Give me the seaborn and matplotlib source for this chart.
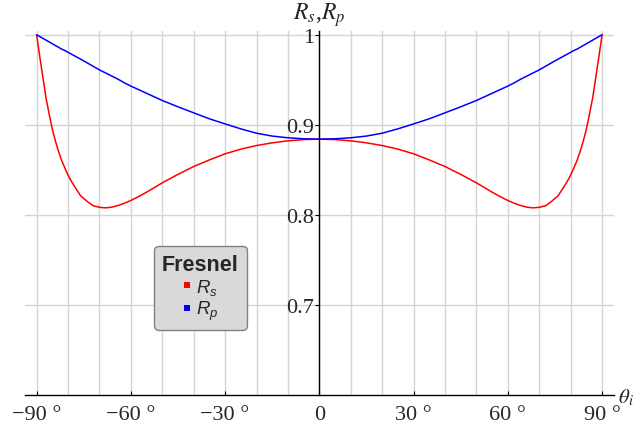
import numpy as np
import pandas as pd
import matplotlib
matplotlib.use("Agg")
import matplotlib.pyplot as plt
from matplotlib.lines import Line2D
from matplotlib.font_manager import FontProperties
import seaborn as sns

# ---- data ----
angles = [-90, -89, -88, -87, -86, -85, -84, -83, -82, -81, -80, -79, -78, -77, -76,
          -74, -72, -70, -68, -66, -64, -62, -60, -57.5, -55, -52.5, -50, -45, -40,
          -35, -30, -25, -20, -15, -10, -5,
          0,
          5, 10, 15, 20, 25, 30, 35, 40, 45, 50, 52.5, 55, 57.5, 60, 62, 64, 66, 68,
          70, 72, 74, 76, 77, 78, 79, 80, 81, 82, 83, 84, 85, 86, 87, 88, 89, 90]
rs = [1.000, 0.9758, 0.9526, 0.9297, 0.9118, 0.8950, 0.8817, 0.8702, 0.8602, 0.8520,
      0.8441, 0.8376, 0.8320, 0.8266, 0.8212, 0.8152, 0.8101, 0.8084, 0.8078, 0.8086,
      0.8105, 0.8130, 0.8160, 0.8204, 0.8252, 0.8304, 0.8356, 0.8450, 0.8537,
      0.8610, 0.8678, 0.8730, 0.8770, 0.8800, 0.8822, 0.8836,
      0.8841,
      0.8836, 0.8822, 0.8800, 0.8770, 0.8730, 0.8678, 0.8610, 0.8537, 0.8450, 0.8356,
      0.8304, 0.8252, 0.8204, 0.8160, 0.8130, 0.8105, 0.8086, 0.8078, 0.8084, 0.8101,
      0.8152, 0.8212, 0.8266, 0.8320, 0.8376, 0.8441, 0.8520, 0.8602, 0.8702, 0.8817,
      0.8950, 0.9118, 0.9297, 0.9526, 0.9758, 1.000]
rp = [1.000, 0.998, 0.996, 0.994, 0.992, 0.990, 0.988, 0.986, 0.984, 0.9825, 0.9805,
      0.9786, 0.9767, 0.9748, 0.9729, 0.969, 0.965, 0.961, 0.9575, 0.954, 0.9505,
      0.9465, 0.943, 0.939, 0.935, 0.931, 0.927, 0.920, 0.9133, 0.9067, 0.901,
      0.8955, 0.8907, 0.8875, 0.8856, 0.8845,
      0.8841,
      0.8845, 0.8856, 0.8875, 0.8907, 0.8955, 0.901, 0.9067, 0.9133, 0.920, 0.927,
      0.931, 0.935, 0.939, 0.943, 0.9465, 0.9505, 0.954, 0.9575, 0.961, 0.965, 0.969,
      0.9729, 0.9748, 0.9767, 0.9786, 0.9805, 0.9825, 0.984, 0.986, 0.988, 0.990,
      0.992, 0.994, 0.996, 0.998, 1.000]
series_names = ["Rs", "Rp"]
series_colors = ["#ff0000", "#0000ff"]
legend_labels = [r"$R_s$", r"$R_p$"]
legend_title = "Fresnel"
xticks = [-90, -60, -30, 0, 30, 60, 90]
xticklabels = ["\u221290 \u00b0", "\u221260 \u00b0", "\u221230 \u00b0", "0",
               "30 \u00b0", "60 \u00b0", "90 \u00b0"]
yticks = [0.7, 0.8, 0.9, 1.0]
yticklabels = ["0.7", "0.8", "0.9", "1"]
xgrid = list(range(-90, 91, 10))

df = pd.DataFrame({
    "angle": angles * 2,
    "R": rs + rp,
    "series": [series_names[0]] * len(angles) + [series_names[1]] * len(angles),
})

sns.set_theme(style="white")
plt.rcParams["font.family"] = ["Liberation Serif", "DejaVu Serif"]
plt.rcParams["mathtext.fontset"] = "custom"
plt.rcParams["mathtext.it"] = "Liberation Sans:italic"
plt.rcParams["mathtext.rm"] = "Liberation Sans"

W, H = 634, 427
fig = plt.figure(figsize=(W / 100, H / 100), dpi=100)
left, right = 25 / W, 614 / W
bottom, top = 1 - 396 / H, 1 - 31.7 / H
ax = fig.add_axes([left, bottom, right - left, top - bottom])

# grid
for g in xgrid:
    ax.axvline(g, color="#d4d4d4", lw=1.0, zorder=0)
for g in yticks:
    ax.axhline(g, color="#d4d4d4", lw=1.0, zorder=0)

sns.lineplot(data=df, x="angle", y="R", hue="series", palette=series_colors,
             hue_order=series_names, ax=ax, legend=False, lw=1.1, zorder=3,
             estimator=None, sort=False)

ax.set_xlim(-93.7, 93.8)
ax.set_ylim(0.6, 1.0045)
ax.set_xlabel("")
ax.set_ylabel("")

for s in ["top", "right"]:
    ax.spines[s].set_visible(False)
ax.spines["left"].set_position(("data", 0))
ax.spines["left"].set_color("black")
ax.spines["bottom"].set_color("black")
ax.spines["left"].set_linewidth(1.0)
ax.spines["bottom"].set_linewidth(1.0)
ax.spines["left"].set_zorder(4)

ax.set_xticks(xticks)
ax.set_xticklabels(xticklabels)
ax.set_yticks(yticks)
ax.set_yticklabels(yticklabels)
ax.tick_params(axis="x", direction="in", length=3, width=0.8, color="black",
               labelsize=16, pad=7, bottom=True)
ax.tick_params(axis="y", direction="out", length=3, width=0.8, color="black",
               labelsize=16, pad=1, left=True)

# axis labels
fig.text(319.3 / W, 1 - 20 / H, r"$R_s$,$R_p$", ha="center", va="baseline",
         fontsize=17, math_fontfamily="stix")
fig.text(618.5 / W, 1 - 403 / H, r"$\theta_i$", ha="left", va="baseline",
         fontsize=15, math_fontfamily="stix")

# legend
handles = [Line2D([], [], ls="none", marker="s", markersize=5, color=c,
                  markeredgewidth=0) for c in series_colors]
leg = ax.legend(handles, legend_labels, title=legend_title,
                loc="upper left", bbox_to_anchor=(154 / W, 1 - 246.7 / H),
                bbox_transform=fig.transFigure, borderaxespad=0,
                prop=FontProperties(family="Liberation Sans", size=13.5),
                title_fontproperties=FontProperties(family="Liberation Sans",
                                                    size=15.5, weight="bold"),
                frameon=True, fancybox=True, framealpha=1, facecolor="#d9d9d9",
                edgecolor="#808080", handlelength=0.5, handletextpad=0.25,
                labelspacing=0.12, borderpad=0.42)
leg.get_frame().set_linewidth(1.0)
leg.get_frame().set_boxstyle("round,pad=0,rounding_size=0.25")
leg._legend_box.align = "center"
leg.set_zorder(5)

fig.savefig("out.png", dpi=100)
